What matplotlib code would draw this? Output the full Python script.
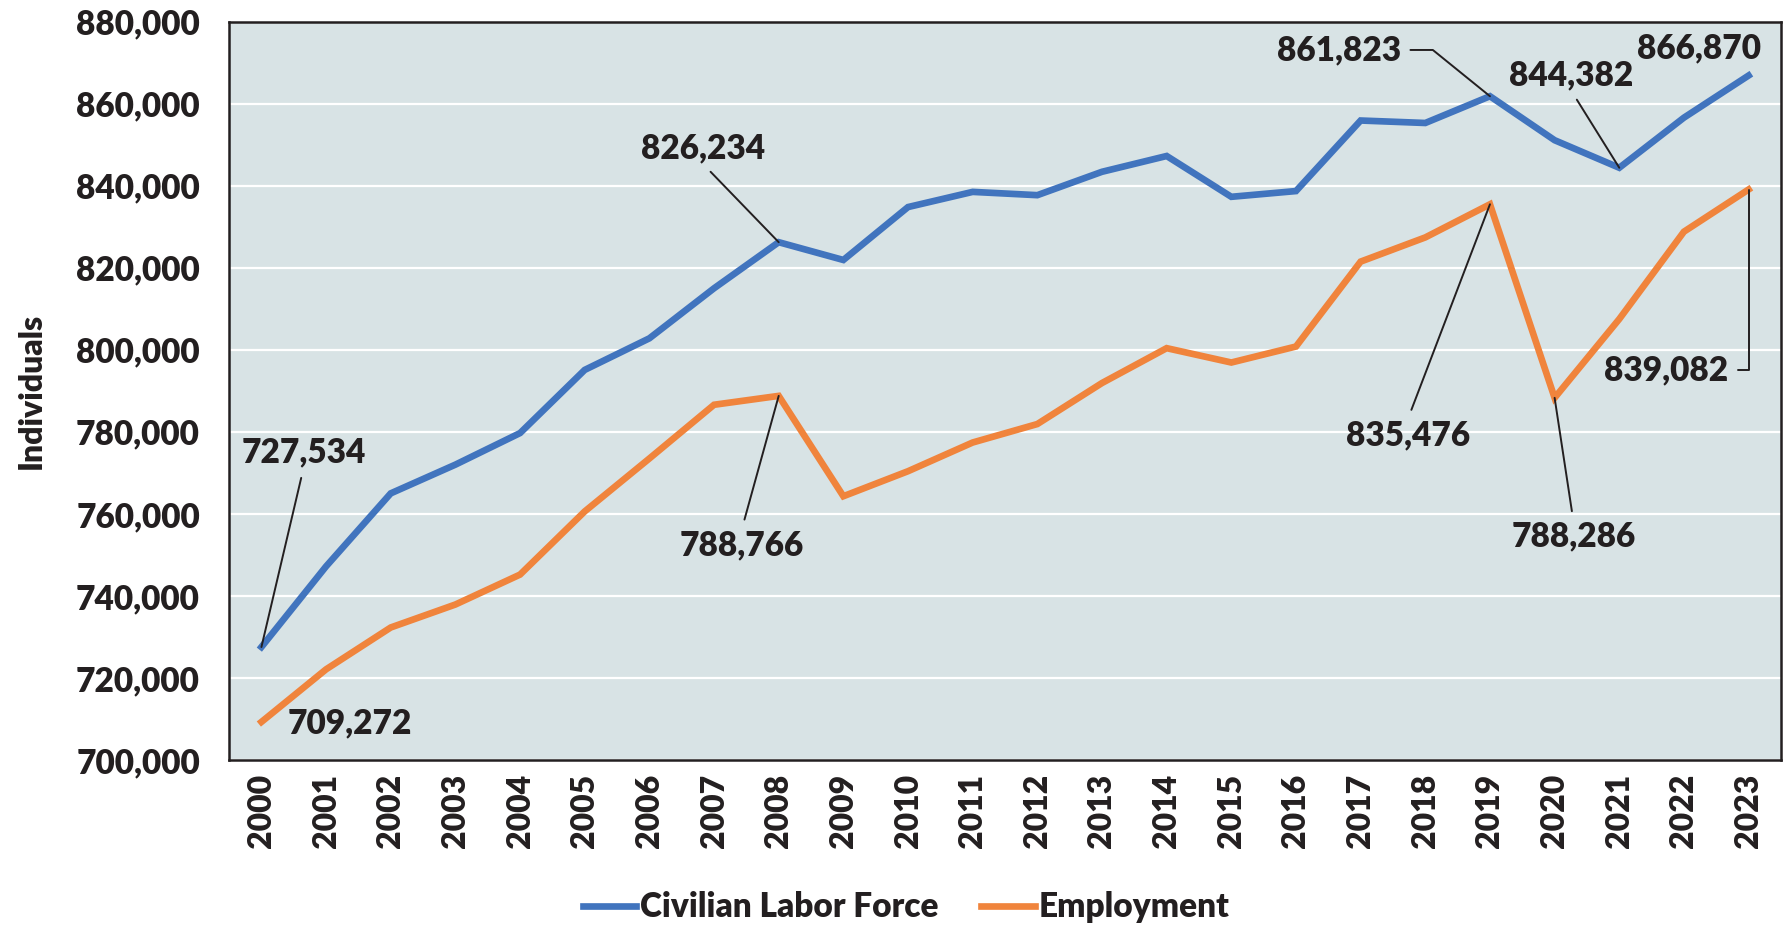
import numpy as np
import matplotlib.pyplot as plt

years = [str(y) for y in range(2000, 2024)]
labor_force = [727534, 747200, 765000, 772000, 779700, 795100, 802800, 815000,
               826234, 821900, 834800, 838500, 837700, 843400, 847250, 837300,
               838700, 855900, 855300, 861823, 851100, 844382, 856600, 866870]
employment = [709272, 722100, 732300, 737900, 745200, 760600, 773500, 786600,
              788766, 764300, 770400, 777400, 781900, 791900, 800400, 796900,
              800800, 821500, 827400, 835476, 788286, 807500, 828800, 839082]

BLUE = '#4174BE'
ORANGE = '#F0843C'
INK = '#231F20'
W = 'heavy'

plt.rcParams['font.family'] = ['Lato', 'DejaVu Sans']
plt.rcParams['font.weight'] = W

fig = plt.figure(figsize=(17.87, 9.26), dpi=100)
ax = fig.add_axes([0.1282, 0.1793, 0.8684, 0.7973])
ax.set_facecolor('#D8E3E5')

x = np.arange(len(years))
ax.plot(x, labor_force, color=BLUE, lw=4.8, label='Civilian Labor Force',
        solid_joinstyle='miter', zorder=3)
ax.plot(x, employment, color=ORANGE, lw=4.8, label='Employment',
        solid_joinstyle='miter', zorder=3)

ax.set_xlim(-0.5, len(years) - 0.5)
ax.set_ylim(700000, 880000)
ax.set_yticks(np.arange(700000, 880001, 20000))
ax.set_yticklabels(['{:,}'.format(v) for v in range(700000, 880001, 20000)],
                   fontweight=W)
ax.set_xticks(x)
ax.set_xticklabels(years, rotation=90, fontweight=W)
ax.tick_params(axis='y', length=0, pad=21, labelsize=24, labelcolor=INK)
ax.tick_params(axis='x', length=0, pad=10, labelsize=23, labelcolor=INK)
ax.grid(axis='y', color='white', lw=1.6, zorder=1)
ax.set_axisbelow(True)
for s in ax.spines.values():
    s.set_color(INK)
    s.set_linewidth(1.8)

ax.set_ylabel('Individuals', fontsize=23, color=INK, labelpad=22, fontweight=W)

# (year index, series, text x, text y, relpos, connection)
notes = [
    (0, labor_force, 0.65, 775000, (0.5, 0), None),
    (0, employment, 1.36, 708900, None, None),
    (8, labor_force, 6.83, 849200, (0.5, 0), None),
    (8, employment, 7.43, 752400, (0.5, 1), None),
    (19, labor_force, 16.66, 873100, (1, 0.5), 'angle,angleA=0,angleB=-39,rad=0'),
    (21, labor_force, 20.26, 867000, (0.5, 0), None),
    (23, labor_force, 22.23, 873600, None, None),
    (19, employment, 17.73, 779200, (0.5, 1), None),
    (20, employment, 20.29, 754400, (0.5, 1), None),
    (23, employment, 21.72, 795100, (1, 0.5), 'angle,angleA=0,angleB=90,rad=0'),
]
for i, ser, tx, ty, rp, conn in notes:
    v = ser[i]
    if rp is None:
        ax.annotate('{:,}'.format(v), (i, v), xytext=(tx, ty), ha='center',
                    va='center', fontsize=24, color=INK, fontweight=W, zorder=5)
    else:
        ax.annotate('{:,}'.format(v), (i, v), xytext=(tx, ty), ha='center',
                    va='center', fontsize=24, color=INK, fontweight=W, zorder=5,
                    arrowprops=dict(arrowstyle='-', color=INK, lw=1.4,
                                    relpos=rp, shrinkA=5, shrinkB=0,
                                    connectionstyle=conn or 'arc3'))

leg = fig.legend(loc='center', bbox_to_anchor=(0.507, 0.02), ncol=2,
                 frameon=False, fontsize=24, handlelength=1.6,
                 handletextpad=0.1, columnspacing=1.3, labelcolor=INK,
                 prop={'weight': W, 'size': 24})

fig.savefig('out.png', dpi=100)
